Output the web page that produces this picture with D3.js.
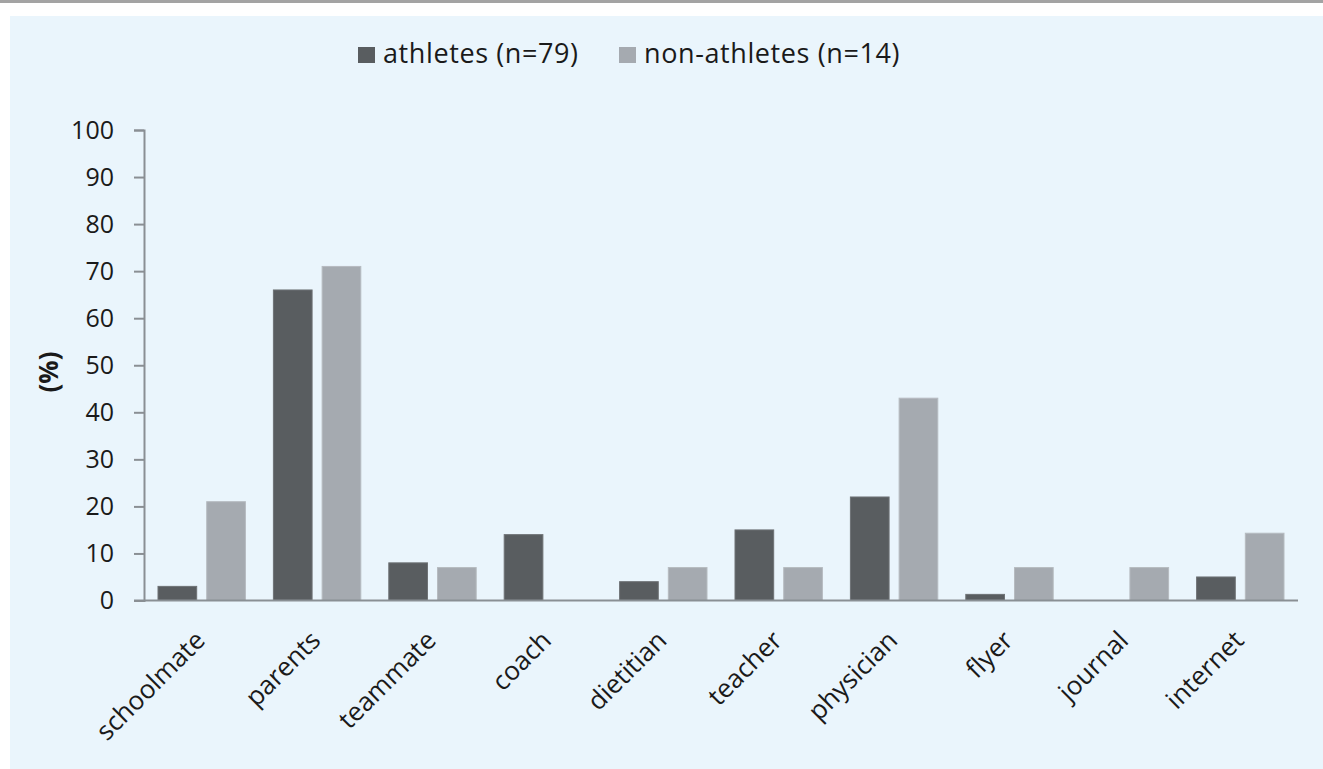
<!DOCTYPE html>
<html>
<head>
<meta charset="utf-8">
<script src="https://cdn.jsdelivr.net/npm/d3@7"></script>
<style>
  body { margin: 0; background: #fff; }
  text { font-family: "Open Sans", sans-serif; fill: #1a1a1a; }
</style>
</head>
<body>
<div class="canvas"></div>
<script>
const categories = ['schoolmate','parents','teammate','coach','dietitian','teacher','physician','flyer','journal','internet'];
const athletes = [3, 66, 8, 14, 4, 15, 22, 1.3, 0, 5];
const nonAthletes = [21, 71, 7, 0, 7, 7, 43, 7, 7, 14.3];
const seriesNames = ['athletes (n=79)', 'non-athletes (n=14)'];
const yTicks = [0,10,20,30,40,50,60,70,80,90,100];

const colors = ['#595d60', '#a5aab0'];
const strokes = ['#6e7275', '#b6bbc0'];

const width = 1323, height = 769;

const svg = d3.select('.canvas')
  .append('svg')
    .attr('width', width)
    .attr('height', height);

// top rule and panel
svg.append('rect')
  .attr('x', 0).attr('y', 0).attr('width', width).attr('height', 3)
  .attr('fill', '#a3a3a3');
svg.append('rect')
  .attr('x', 10).attr('y', 16).attr('width', width - 10).attr('height', height - 16)
  .attr('fill', '#eaf5fc');

const x = d3.scaleBand()
  .domain(categories)
  .range([144, 1298])
  .padding(0);

const x1 = d3.scaleBand()
  .domain([0, 1])
  .range([14, x.bandwidth() - 14])
  .paddingInner(0.206);

const y = d3.scaleLinear()
  .domain([0, 100])
  .range([600.5, 130]);

const data = categories.map((c, i) => ({name: c, values: [athletes[i], nonAthletes[i]]}));

// bars
const groups = svg.selectAll('g.cat')
  .data(data)
  .enter()
  .append('g')
    .attr('class', 'cat')
    .attr('transform', d => `translate(${x(d.name)},0)`);

groups.selectAll('rect')
  .data(d => d.values.map((v, k) => ({k, v})))
  .enter()
  .append('rect')
    .attr('x', d => x1(d.k))
    .attr('y', d => y(d.v))
    .attr('width', x1.bandwidth())
    .attr('height', d => y(0) - y(d.v))
    .attr('fill', d => colors[d.k])
    .attr('stroke', d => d.v > 0 ? strokes[d.k] : 'none')
    .attr('stroke-width', 1);

// y axis
const yAxis = d3.axisLeft(y)
  .tickValues(yTicks)
  .tickSize(10)
  .tickPadding(20)
  .tickFormat(d3.format('d'));

const yAxisGroup = svg.append('g')
  .attr('transform', 'translate(144,0)')
  .call(yAxis);
yAxisGroup.attr('font-size', null).attr('font-family', null);
yAxisGroup.select('.domain').attr('stroke', '#8a8f94').attr('stroke-width', 2);
yAxisGroup.selectAll('.tick line').attr('stroke', '#8a8f94').attr('stroke-width', 2);
yAxisGroup.selectAll('.tick text')
  .attr('fill', '#1a1a1a')
  .style('font-size', '25px')
  .style('font-family', '"Open Sans", sans-serif');

// x axis line
svg.append('line')
  .attr('x1', 134).attr('x2', 1298)
  .attr('y1', y(0)).attr('y2', y(0))
  .attr('stroke', '#8a8f94').attr('stroke-width', 2);

// x labels
svg.selectAll('text.xlab')
  .data(categories)
  .enter()
  .append('text')
    .attr('class', 'xlab')
    .attr('text-anchor', 'end')
    .style('font-size', '26px')
    .attr('transform', d => `translate(${x(d) + x.bandwidth() / 2 + 5},642) rotate(-45)`)
    .text(d => d);

// y title
svg.append('text')
  .attr('transform', 'translate(58,372) rotate(-90)')
  .attr('text-anchor', 'middle')
  .style('font-size', '26px')
  .attr('font-weight', 'bold')
  .text('(%)');

// legend
const legendX = [358, 619];
const legend = svg.selectAll('g.legend')
  .data(seriesNames)
  .enter()
  .append('g')
    .attr('class', 'legend')
    .attr('transform', (d, i) => `translate(${legendX[i]},47)`);

legend.append('rect')
  .attr('width', 17).attr('height', 16)
  .attr('fill', (d, i) => colors[i]);

legend.append('text')
  .attr('x', 25).attr('y', 16)
  .style('font-size', '27px')
  .style('letter-spacing', '0.6px')
  .text(d => d);
</script>
</body>
</html>
